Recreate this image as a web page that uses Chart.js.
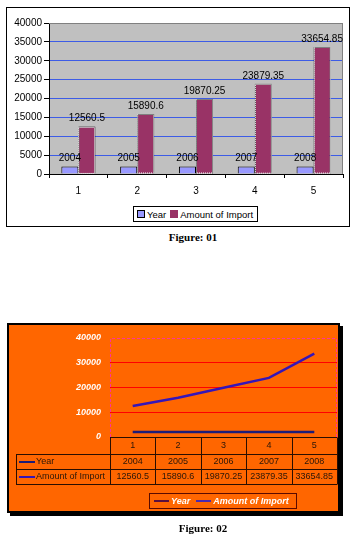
<!DOCTYPE html>
<html>
<head>
<meta charset="utf-8">
<script src="https://cdn.jsdelivr.net/npm/chart.js@4/dist/chart.umd.min.js"></script>
<style>
  html, body { margin:0; padding:0; }
  body { width:355px; height:534px; position:relative; background:#fff; overflow:hidden; font-family:"Liberation Sans", Arial, sans-serif; }
  .abs { position:absolute; }
  #box1 { left:6px; top:7px; width:342px; height:218px; border:1px solid #000; }
  #box2 { left:7px; top:323px; width:329px; height:186px; border:2px solid #000; background:#ff6600; box-shadow:3px 3px 0 #000; }
  #leg1 { left:133px; top:206px; width:123px; height:14px; border:1px solid #000; background:#fff; display:flex; align-items:center; font-size:9.5px; color:#000; white-space:nowrap; }
  #leg1 .sw { display:inline-block; width:6px; height:6px; border:1px solid #000; margin:0 2px 0 3px; }
  #leg2 { left:149px; top:493px; width:146px; height:14px; border:1px solid #5a0a00; display:flex; align-items:center; font-size:9px; font-weight:bold; font-style:italic; color:#fff; white-space:nowrap; }
  #leg2 .ln { display:inline-block; width:15px; height:2px; margin:0 2px 0 4px; }
  .cap { font-family:"Liberation Serif", "Times New Roman", serif; font-weight:bold; font-size:11px; color:#000; white-space:nowrap; transform:translate(-50%,-50%); }
</style>
</head>
<body>
<div id="box1" class="abs"></div>
<canvas id="c1" class="abs" style="left:0;top:0" width="355" height="230"></canvas>
<div id="leg1" class="abs"><span class="sw" style="background:#9999ff"></span>Year<span class="sw" style="background:#993366;border-color:#993366;margin-left:4px"></span>Amount of Import</div>
<div class="abs cap" style="left:193px;top:237px">Figure: 01</div>

<div id="box2" class="abs"></div>
<canvas id="c2" class="abs" style="left:0;top:323px" width="355" height="190"></canvas>
<div id="leg2" class="abs"><span class="ln" style="background:#5a1040"></span>Year<span class="ln" style="background:#4a2ab0;margin-left:6px"></span>Amount of Import</div>
<div class="abs cap" style="left:203px;top:528px">Figure: 02</div>

<script>
// ---- data ----
const categories = ['1', '2', '3', '4', '5'];
const years = [2004, 2005, 2006, 2007, 2008];
const imports = [12560.5, 15890.6, 19870.25, 23879.35, 33654.85];
const seriesNames = ['Year', 'Amount of Import'];
const yMin = 0, yMax = 40000;
const yStep1 = 5000;
const yStep2 = 10000;
const plainNum = v => String(v);

// ---- chart 1: grouped bars ----
const plot1 = {
  id: 'plot1',
  beforeDraw(chart) {
    const a = chart.chartArea, ctx = chart.ctx;
    ctx.save();
    ctx.fillStyle = '#c0c0c0';
    ctx.fillRect(a.left, a.top, a.right - a.left, a.bottom - a.top);
    ctx.restore();
  },
  beforeDatasetsDraw(chart) {
    const a = chart.chartArea, ctx = chart.ctx;
    ctx.save();
    ctx.strokeStyle = '#808080';
    ctx.lineWidth = 1;
    ctx.beginPath();
    ctx.moveTo(a.left, a.top + 0.5); ctx.lineTo(a.right - 0.5, a.top + 0.5); ctx.lineTo(a.right - 0.5, a.bottom);
    ctx.stroke();
    ctx.restore();
  },
  afterDatasetsDraw(chart) {
    const ctx = chart.ctx;
    ctx.save();
    const m1 = chart.getDatasetMeta(1);
    ctx.strokeStyle = '#ffffff';
    ctx.lineWidth = 1;
    ctx.setLineDash([1, 1]);
    m1.data.forEach(el => {
      const x0 = Math.round(el.x - el.width / 2) + 0.5;
      const w = Math.round(el.width) - 1;
      ctx.strokeRect(x0, Math.round(el.y) + 0.5, w, el.base - el.y - 1);
    });
    ctx.setLineDash([]);
    ctx.fillStyle = '#000';
    ctx.font = '10px "Liberation Sans", Arial, sans-serif';
    ctx.textAlign = 'center';
    ctx.textBaseline = 'bottom';
    chart.data.datasets.forEach((ds, i) => {
      chart.getDatasetMeta(i).data.forEach((el, j) => {
        ctx.fillText(String(ds.data[j]), el.x, el.y - 3);
      });
    });
    ctx.restore();
  }
};

new Chart(document.getElementById('c1'), {
  type: 'bar',
  data: {
    labels: categories,
    datasets: [
      { label: seriesNames[0], data: years, backgroundColor: '#9999ff', borderColor: '#000', borderWidth: 1,
        categoryPercentage: 0.58, barPercentage: 1 },
      { label: seriesNames[1], data: imports, backgroundColor: '#993366', borderColor: '#000', borderWidth: 1,
        categoryPercentage: 0.58, barPercentage: 1 }
    ]
  },
  options: {
    responsive: false, devicePixelRatio: 1, animation: false,
    layout: { padding: { top: 23, right: 12, left: 0, bottom: 0 } },
    plugins: { legend: { display: false }, tooltip: { enabled: false } },
    scales: {
      x: {
        afterFit: s => { s.height = 56; },
        grid: { display: true, drawOnChartArea: false, drawTicks: true, tickLength: 4, tickColor: '#000', offset: true },
        border: { display: true, color: '#000', width: 1 },
        ticks: { color: '#000', font: { family: '"Liberation Sans", Arial, sans-serif', size: 10 }, padding: 7 }
      },
      y: {
        min: yMin, max: yMax,
        afterFit: s => { s.width = 49; },
        ticks: { stepSize: yStep1, callback: plainNum, color: '#000', font: { family: '"Liberation Sans", Arial, sans-serif', size: 10 }, padding: 2 },
        grid: {
          color: c => (c.tick && c.tick.value === yMax) ? '#808080' : '#3d5ce6',
          lineWidth: 1, drawTicks: true, tickLength: 5, tickColor: '#000'
        },
        border: { display: true, color: '#000', width: 1 }
      }
    }
  },
  plugins: [plot1]
});

// ---- chart 2: lines with data table ----
const lineColors = ['#1c1c78', '#3516b8'];
const tableFont = '9px "Liberation Sans", Arial, sans-serif';
const plot2 = {
  id: 'plot2',
  beforeDatasetsDraw(chart) {
    const a = chart.chartArea, ctx = chart.ctx;
    ctx.save();
    ctx.strokeStyle = '#ff3399';
    ctx.lineWidth = 1;
    ctx.setLineDash([3, 2]);
    ctx.beginPath();
    ctx.moveTo(a.left + 0.5, a.bottom); ctx.lineTo(a.left + 0.5, a.top + 0.5);
    ctx.lineTo(a.right - 0.5, a.top + 0.5); ctx.lineTo(a.right - 0.5, a.bottom);
    ctx.stroke();
    ctx.restore();
  },
  afterDraw(chart) {
    const a = chart.chartArea, ctx = chart.ctx, xs = chart.scales.x;
    const step = xs.getPixelForValue(1) - xs.getPixelForValue(0);
    const rowH = [17, 15, 15];
    const yTop = a.bottom;
    const y1 = yTop + rowH[0], y2 = y1 + rowH[1], y3 = y2 + rowH[2];
    const leftX = 16;
    ctx.save();
    ctx.strokeStyle = '#2a0e00';
    ctx.lineWidth = 1;
    ctx.beginPath();
    const h = v => Math.round(v) + 0.5;
    ctx.moveTo(a.left, h(yTop)); ctx.lineTo(a.right, h(yTop));
    [y1, y2, y3].forEach(y => { ctx.moveTo(leftX, h(y)); ctx.lineTo(a.right, h(y)); });
    ctx.moveTo(h(leftX), h(y1)); ctx.lineTo(h(leftX), h(y3));
    for (let i = 0; i <= categories.length; i++) {
      const x = h(xs.getPixelForValue(i) - step / 2);
      ctx.moveTo(x, h(yTop)); ctx.lineTo(x, h(y3));
    }
    ctx.stroke();
    const rows = [years, imports];
    const mids = [(y1 + y2) / 2 + 0.5, (y2 + y3) / 2 + 0.5];
    ctx.font = tableFont;
    ctx.fillStyle = '#2a1608';
    ctx.textBaseline = 'middle';
    rows.forEach((vals, r) => {
      ctx.textAlign = 'center';
      vals.forEach((v, j) => ctx.fillText(String(v), xs.getPixelForValue(j), mids[r]));
      ctx.strokeStyle = lineColors[r];
      ctx.lineWidth = 2;
      ctx.beginPath();
      ctx.moveTo(leftX + 3, mids[r]); ctx.lineTo(leftX + 19, mids[r]);
      ctx.stroke();
      ctx.textAlign = 'left';
      ctx.fillStyle = '#2a1608';
      ctx.fillText(seriesNames[r], leftX + 20, mids[r]);
    });
    ctx.restore();
  }
};

new Chart(document.getElementById('c2'), {
  type: 'line',
  data: {
    labels: categories,
    datasets: [
      { label: seriesNames[0], data: years, borderColor: lineColors[0], borderWidth: 2.5, pointRadius: 0, tension: 0, fill: false },
      { label: seriesNames[1], data: imports, borderColor: lineColors[1], borderWidth: 2.5, pointRadius: 0, tension: 0, fill: false }
    ]
  },
  options: {
    responsive: false, devicePixelRatio: 1, animation: false,
    layout: { padding: { top: 15, right: 18, left: 0, bottom: 0 } },
    plugins: { legend: { display: false }, tooltip: { enabled: false } },
    scales: {
      x: {
        offset: true,
        afterFit: s => { s.height = 76; },
        grid: { display: false, drawTicks: false },
        border: { display: false },
        ticks: { color: '#2a1608', font: { family: '"Liberation Sans", Arial, sans-serif', size: 9 }, padding: 3 }
      },
      y: {
        min: yMin, max: yMax,
        afterFit: s => { s.width = 110; },
        ticks: { stepSize: yStep2, callback: plainNum, color: '#ffffff', font: { family: '"Liberation Sans", Arial, sans-serif', size: 9, weight: 'bold', style: 'italic' }, padding: 9 },
        grid: {
          color: c => (c.tick && (c.tick.value === yMin || c.tick.value === yMax)) ? 'rgba(0,0,0,0)' : '#ff0000',
          lineWidth: 1, drawTicks: false
        },
        border: { display: false }
      }
    }
  },
  plugins: [plot2]
});
</script>
</body>
</html>
